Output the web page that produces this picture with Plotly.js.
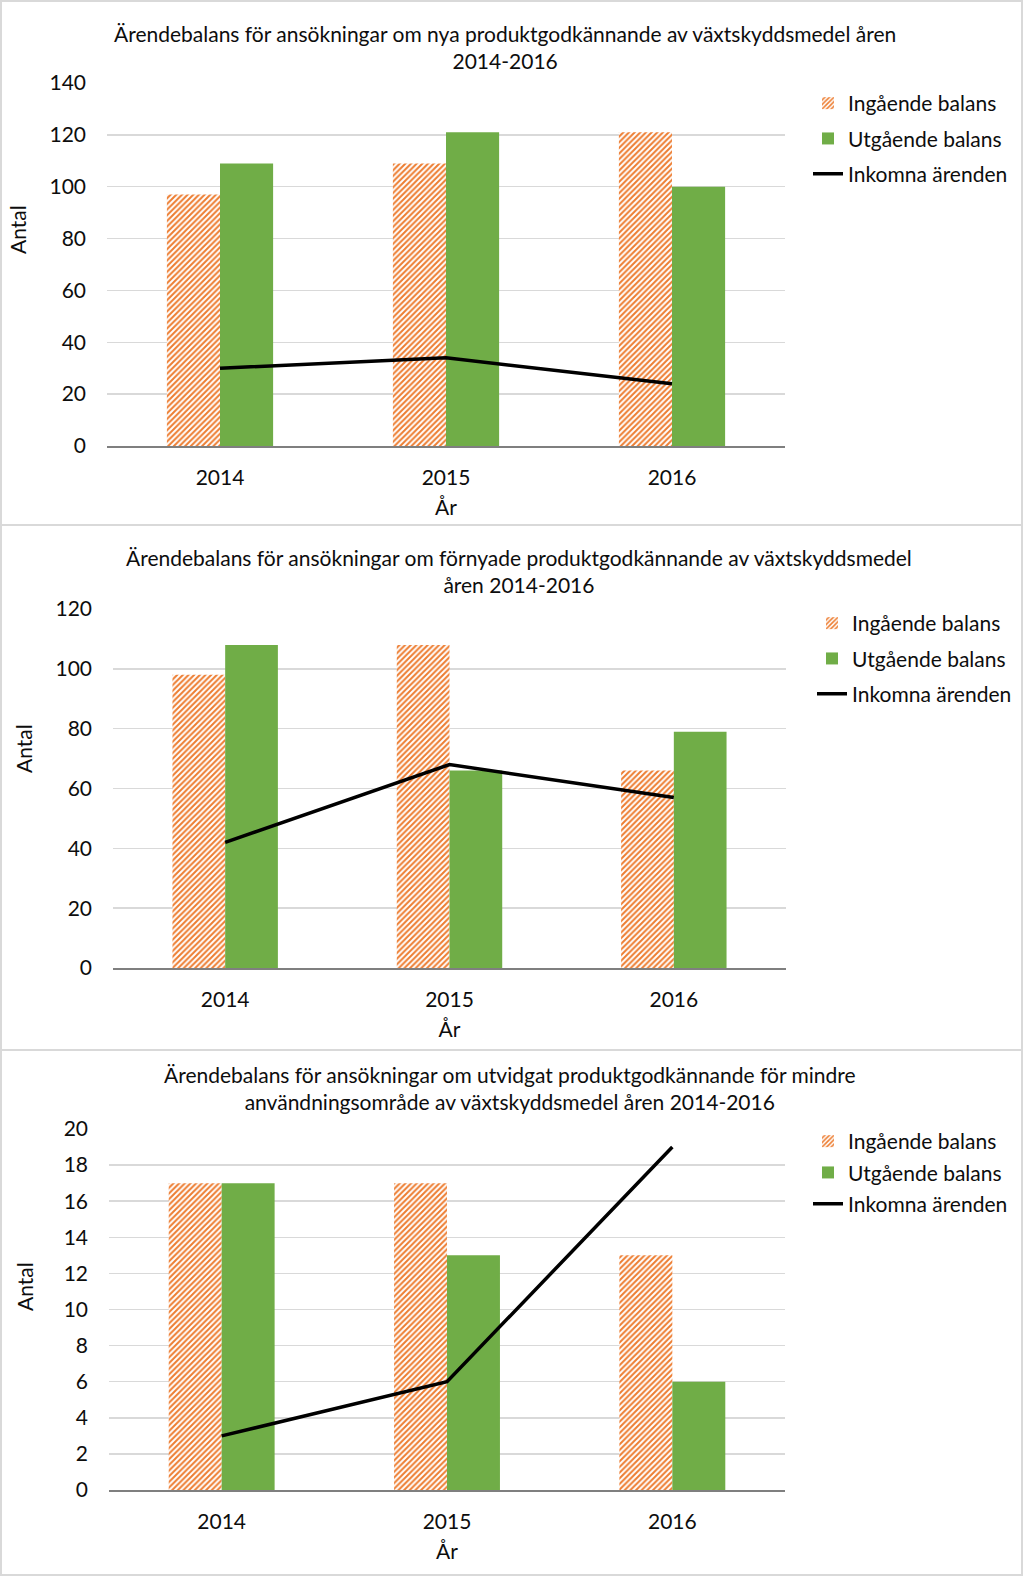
<!DOCTYPE html>
<html>
<head>
<meta charset="utf-8">
<script src="https://cdn.plot.ly/plotly-3.0.1.min.js"></script>
<style>html,body{margin:0;padding:0;background:#fff;}#chart{width:1024px;height:1576px;}</style>
</head>
<body>
<div id="chart"></div>
<script>
// ---- Data ----
const years = ['2014', '2015', '2016'];
const seriesNames = ['Ingående balans', 'Utgående balans', 'Inkomna ärenden'];

const titles = [
  'Ärendebalans för ansökningar om nya produktgodkännande av växtskyddsmedel åren<br>2014-2016',
  'Ärendebalans för ansökningar om förnyade produktgodkännande av växtskyddsmedel<br>åren 2014-2016',
  'Ärendebalans för ansökningar om utvidgat produktgodkännande för mindre<br>användningsområde av växtskyddsmedel åren 2014-2016'
];

// Chart 1: nya produktgodkännande
const ingaende1 = [97, 109, 121];
const utgaende1 = [109, 121, 100];
const inkomna1 = [30, 34, 24];

// Chart 2: förnyade produktgodkännande
const ingaende2 = [98, 108, 66];
const utgaende2 = [108, 66, 79];
const inkomna2 = [42, 68, 57];

// Chart 3: utvidgat produktgodkännande för mindre användningsområde
const ingaende3 = [17, 17, 13];
const utgaende3 = [17, 13, 6];
const inkomna3 = [3, 6, 19];

const yRanges = [[0, 140], [0, 120], [0, 20]];
const yDticks = [20, 20, 2];
const xLabel = 'År';
const yLabel = 'Antal';

// ---- Layout helpers (pixel geometry -> paper) ----
const W = 1024, H = 1576;
const px = v => v / W;
const py = v => 1 - v / H;

const FONT = 'Lato, "Open Sans", sans-serif';
const FS = 21;
const TXT = '#0d0d0d';
const ORANGE = '#ED7D31';
const GREEN = '#70AD47';

const panels = [
  {ing: ingaende1, utg: utgaende1, ink: inkomna1, x0: 107, x1: 785, yTop: 83, yBot: 446,
   titleX: 505, titleY: 47, antalX: 18, antalY: 230, legX: 808, legY: 83, gap: 5, boxTop: 1, boxBot: 525},
  {ing: ingaende2, utg: utgaende2, ink: inkomna2, x0: 113, x1: 786, yTop: 609, yBot: 968,
   titleX: 519, titleY: 571, antalX: 23, antalY: 749, legX: 812, legY: 603, gap: 5, boxTop: 525, boxBot: 1050},
  {ing: ingaende3, utg: utgaende3, ink: inkomna3, x0: 109, x1: 785, yTop: 1129, yBot: 1490,
   titleX: 510, titleY: 1088, antalX: 24, antalY: 1287, legX: 808, legY: 1121, gap: 1, boxTop: 1050, boxBot: 1575}
];

const traces = [];
const layout = {
  width: W, height: H,
  margin: {l: 0, r: 0, t: 0, b: 0},
  paper_bgcolor: '#fff', plot_bgcolor: '#fff',
  font: {family: FONT, size: FS, color: TXT},
  barmode: 'group', bargap: 0.53, bargroupgap: 0,
  annotations: [], shapes: [], showlegend: true
};

panels.forEach((p, i) => {
  const n = i === 0 ? '' : String(i + 1);
  const xa = 'x' + n, ya = 'y' + n;
  const leg = 'legend' + n;
  traces.push({
    type: 'bar', x: years, y: p.ing, name: seriesNames[0], xaxis: xa, yaxis: ya,
    legend: leg, legendgroup: 'a' + i,
    marker: {color: '#fff', line: {width: 0},
      pattern: {shape: '/', fgcolor: ORANGE, bgcolor: '#fff', size: 4, solidity: 0.5}}
  });
  traces.push({
    type: 'bar', x: years, y: p.utg, name: seriesNames[1], xaxis: xa, yaxis: ya,
    legend: leg, legendgroup: 'b' + i,
    marker: {color: GREEN, line: {width: 0}}
  });
  traces.push({
    type: 'scatter', mode: 'lines', x: years, y: p.ink, name: seriesNames[2], xaxis: xa, yaxis: ya,
    legend: leg, legendgroup: 'c' + i,
    line: {color: '#000', width: 3.5}
  });

  layout['xaxis' + n] = {
    domain: [px(p.x0), px(p.x1)], anchor: ya, type: 'category',
    showline: true, linecolor: '#7F7F7F', linewidth: 1.5,
    showgrid: false, ticks: '', ticklabelstandoff: 12,
    tickfont: {family: FONT, size: FS, color: TXT},
    title: {text: xLabel, font: {family: FONT, size: FS, color: TXT}, standoff: 12},
    fixedrange: true
  };
  layout['yaxis' + n] = {
    domain: [py(p.yBot), py(p.yTop)], anchor: xa,
    range: yRanges[i], dtick: yDticks[i], tick0: 0,
    showgrid: true, gridcolor: '#D9D9D9', gridwidth: 1.5,
    zeroline: false, showline: false, ticks: '', ticklabelstandoff: 20,
    tickfont: {family: FONT, size: FS, color: TXT},
    fixedrange: true
  };
  layout[leg] = {
    x: px(p.legX), y: py(p.legY), xanchor: 'left', yanchor: 'top',
    font: {family: FONT, size: FS, color: TXT},
    bgcolor: 'rgba(0,0,0,0)', borderwidth: 0,
    tracegroupgap: p.gap, traceorder: 'grouped', itemclick: false, itemdoubleclick: false
  };
  layout.annotations.push({
    xref: 'paper', yref: 'paper', x: px(p.titleX), y: py(p.titleY),
    xanchor: 'center', yanchor: 'middle', showarrow: false, align: 'center',
    text: titles[i], font: {family: FONT, size: FS, color: TXT}
  });
  layout.annotations.push({
    xref: 'paper', yref: 'paper', x: px(p.antalX), y: py(p.antalY),
    xanchor: 'center', yanchor: 'middle', showarrow: false, textangle: -90,
    text: yLabel, font: {family: FONT, size: FS, color: TXT}
  });
  layout.shapes.push({
    type: 'rect', xref: 'paper', yref: 'paper',
    x0: px(1), x1: px(1022), y0: py(p.boxBot), y1: py(p.boxTop),
    line: {color: '#D9D9D9', width: 2}, fillcolor: 'rgba(0,0,0,0)', layer: 'below'
  });
});

Plotly.newPlot('chart', traces, layout, {displayModeBar: false, staticPlot: true});
</script>
</body>
</html>
